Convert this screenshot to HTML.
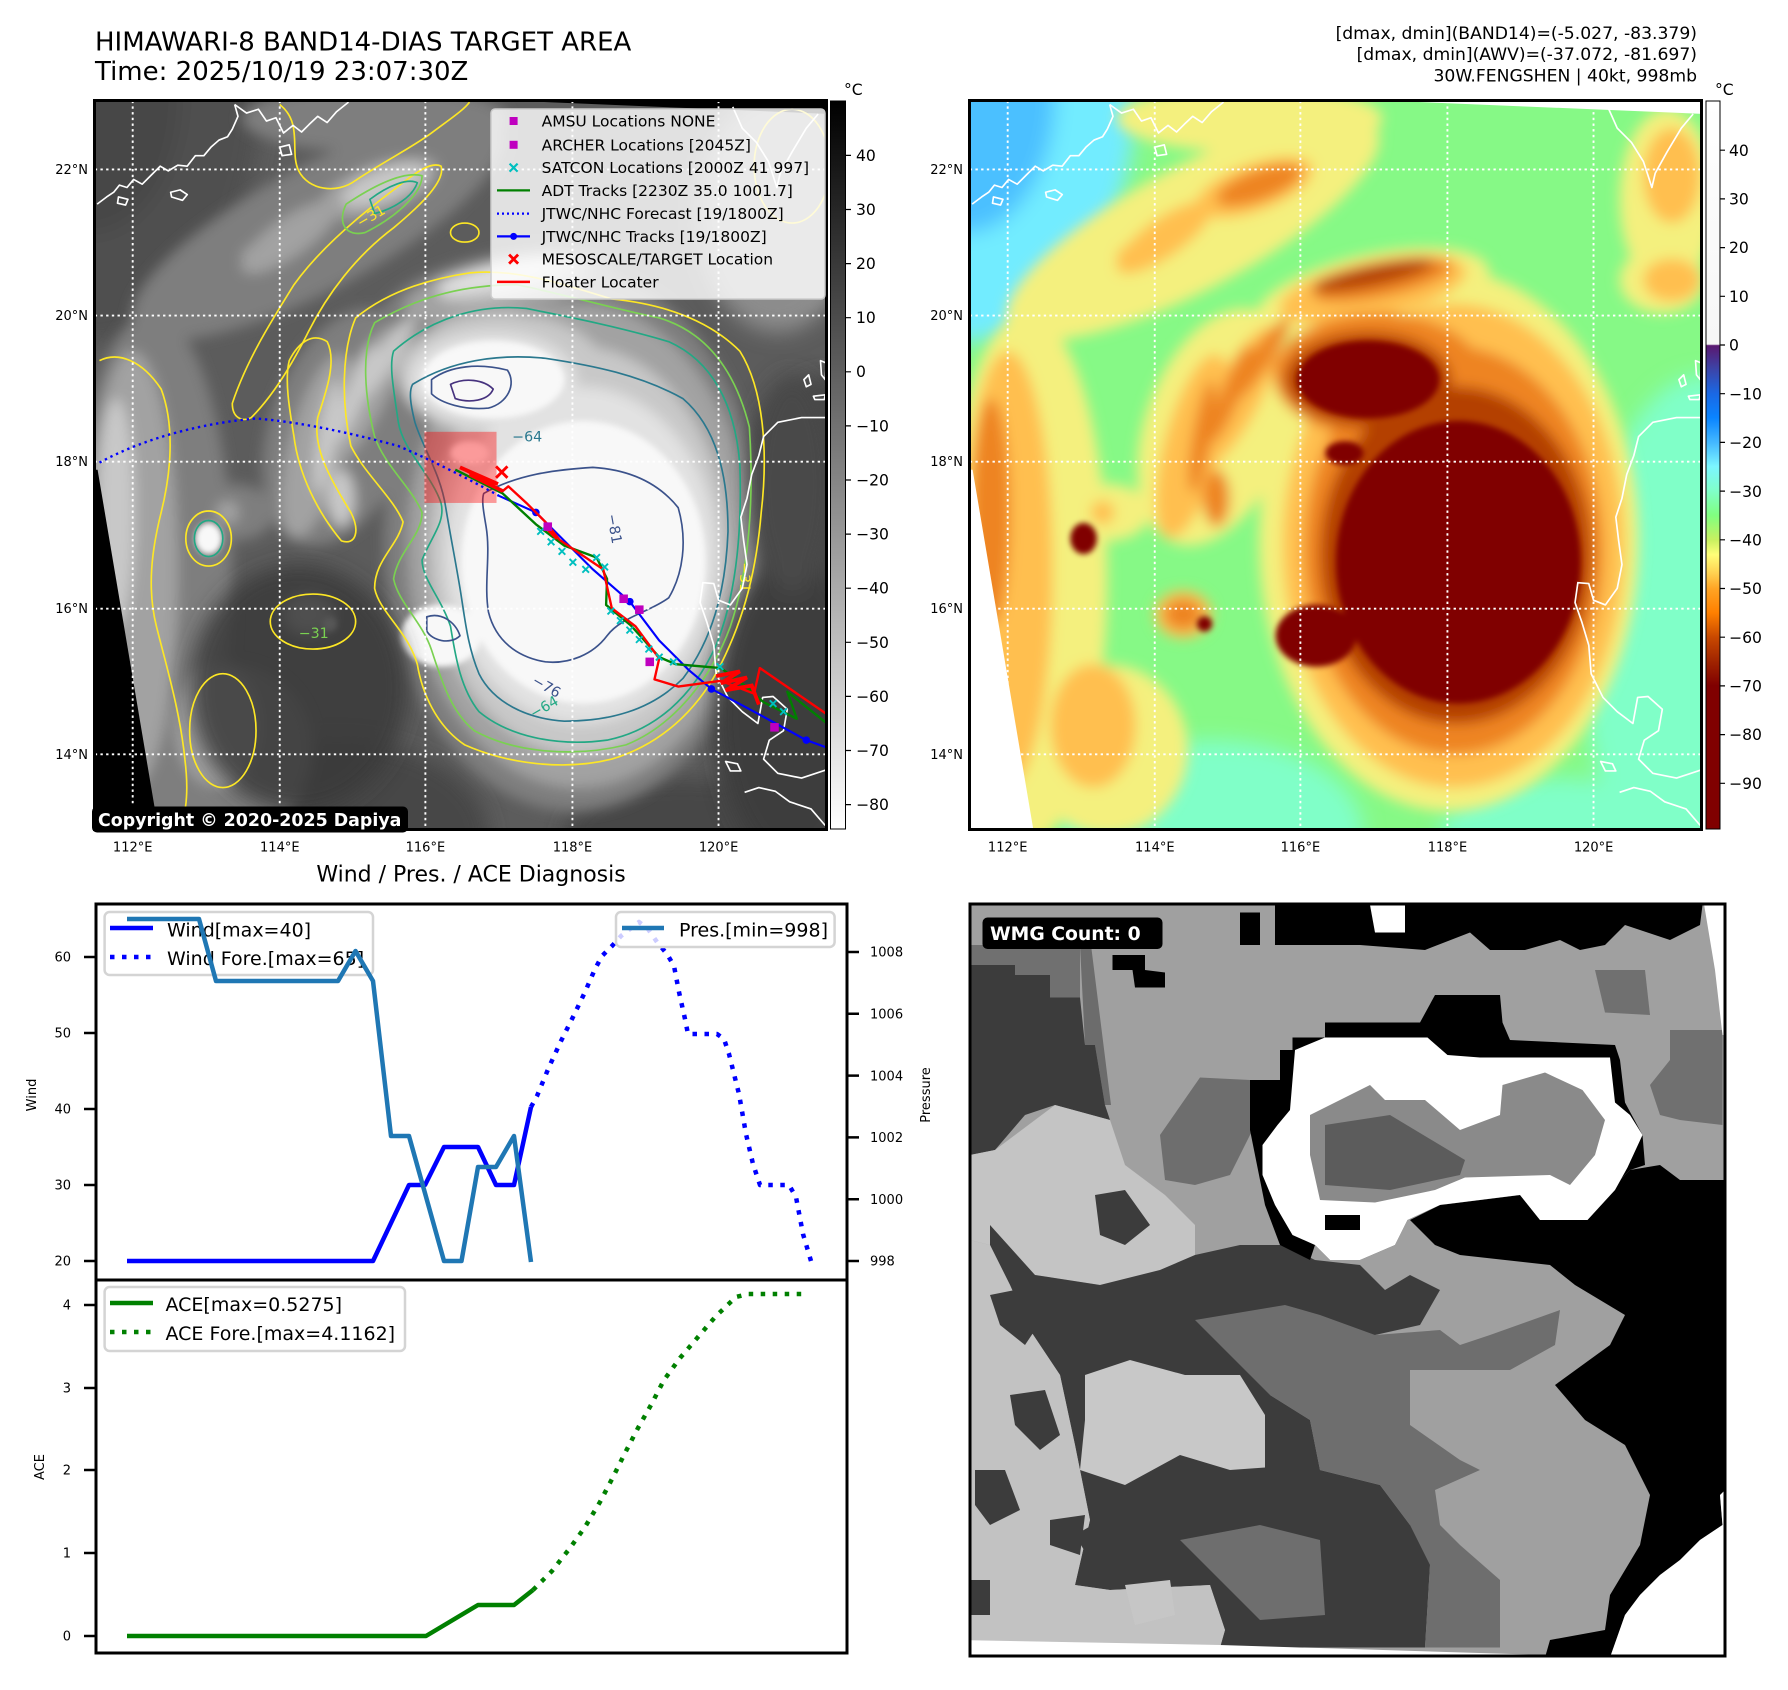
<!DOCTYPE html>
<html><head><meta charset="utf-8"><style>
html,body{margin:0;padding:0;background:#fff;}
svg{display:block;}
text{font-family:"DejaVu Sans","Liberation Sans",sans-serif;}
</style></head><body>
<svg width="1788" height="1690" viewBox="0 0 1788 1690" xmlns="http://www.w3.org/2000/svg">
<defs>
<filter id="b14" x="-30%" y="-30%" width="160%" height="160%"><feGaussianBlur stdDeviation="14"/></filter>
<filter id="b6" x="-30%" y="-30%" width="160%" height="160%"><feGaussianBlur stdDeviation="6"/></filter>
<filter id="b20" x="-30%" y="-30%" width="160%" height="160%"><feGaussianBlur stdDeviation="22"/></filter>
<linearGradient id="cg1" x1="0" y1="0" x2="0" y2="1"><stop offset="0" stop-color="#000"/><stop offset="1" stop-color="#fff"/></linearGradient>
<linearGradient id="cg2" x1="0" y1="0" x2="0" y2="1">
<stop offset="0" stop-color="#ffffff"/><stop offset="0.334" stop-color="#f6f6f6"/>
<stop offset="0.336" stop-color="#5a1870"/><stop offset="0.368" stop-color="#3c44a8"/>
<stop offset="0.402" stop-color="#1a68e4"/><stop offset="0.435" stop-color="#0a84ff"/>
<stop offset="0.469" stop-color="#44b8ff"/><stop offset="0.502" stop-color="#7cf6ff"/>
<stop offset="0.536" stop-color="#80ffc8"/><stop offset="0.569" stop-color="#80ff80"/>
<stop offset="0.603" stop-color="#c8f060"/><stop offset="0.623" stop-color="#ffff78"/>
<stop offset="0.649" stop-color="#ffd050"/><stop offset="0.670" stop-color="#ffa424"/>
<stop offset="0.703" stop-color="#ff8000"/><stop offset="0.737" stop-color="#c84800"/>
<stop offset="0.770" stop-color="#a02400"/><stop offset="0.803" stop-color="#800000"/>
<stop offset="1" stop-color="#800000"/></linearGradient>
<clipPath id="pc"><rect x="9" y="11" width="1544" height="1538"/></clipPath>
<clipPath id="pc3"><rect x="20" y="17" width="1510" height="1508"/></clipPath>

<g id="cld">
<rect x="0" y="0" width="1560" height="1560" style="fill:var(--bg)"/>
<g filter="url(#b20)">
<ellipse cx="0" cy="0" rx="360" ry="520" style="fill:var(--cy)"/>
<ellipse cx="0" cy="0" rx="190" ry="290" style="fill:var(--bl)"/>
<ellipse cx="1560" cy="1150" rx="260" ry="560" style="fill:var(--cg)"/>
<ellipse cx="520" cy="1560" rx="320" ry="200" style="fill:var(--cg)"/>
<ellipse cx="1250" cy="1560" rx="250" ry="120" style="fill:var(--cg)"/>
</g>
<g filter="url(#b14)">
<ellipse cx="480" cy="280" rx="440" ry="130" transform="rotate(-28 480 280)" style="fill:var(--ye)"/>
<ellipse cx="600" cy="50" rx="280" ry="70" style="fill:var(--ye)"/>
<ellipse cx="130" cy="1020" rx="170" ry="560" style="fill:var(--ye)"/>
<ellipse cx="1020" cy="940" rx="400" ry="570" style="fill:var(--ye)"/>
<ellipse cx="860" cy="420" rx="250" ry="85" transform="rotate(-12 860 420)" style="fill:var(--ye)"/>
<ellipse cx="530" cy="700" rx="150" ry="260" transform="rotate(20 530 700)" style="fill:var(--ye)"/>
<ellipse cx="1480" cy="220" rx="100" ry="190" style="fill:var(--ye)"/>
<ellipse cx="300" cy="1380" rx="170" ry="180" style="fill:var(--ye)"/>
<ellipse cx="1470" cy="390" rx="90" ry="70" style="fill:var(--ye)"/>
<ellipse cx="300" cy="880" rx="90" ry="60" style="fill:var(--ye)"/>
<ellipse cx="610" cy="195" rx="130" ry="50" transform="rotate(-20 610 195)" style="fill:var(--o1)"/>
<ellipse cx="420" cy="300" rx="120" ry="40" transform="rotate(-35 420 300)" style="fill:var(--o1)"/>
<ellipse cx="90" cy="1000" rx="95" ry="460" style="fill:var(--o1)"/>
<ellipse cx="1030" cy="950" rx="360" ry="510" style="fill:var(--o1)"/>
<ellipse cx="860" cy="410" rx="200" ry="60" transform="rotate(-12 860 410)" style="fill:var(--o1)"/>
<ellipse cx="480" cy="740" rx="60" ry="200" transform="rotate(15 480 740)" style="fill:var(--o1)"/>
<ellipse cx="570" cy="640" rx="50" ry="170" transform="rotate(28 570 640)" style="fill:var(--o1)"/>
<ellipse cx="1490" cy="390" rx="60" ry="45" style="fill:var(--o1)"/>
<ellipse cx="1490" cy="170" rx="60" ry="100" style="fill:var(--o1)"/>
<ellipse cx="270" cy="1330" rx="90" ry="130" style="fill:var(--o1)"/>
<ellipse cx="460" cy="1095" rx="60" ry="50" style="fill:var(--o1)"/>
<ellipse cx="290" cy="880" rx="25" ry="25" style="fill:var(--o1)"/>
<ellipse cx="360" cy="340" rx="40" ry="25" style="fill:var(--o1)"/>
<ellipse cx="1030" cy="960" rx="315" ry="430" style="fill:var(--o2)"/>
<ellipse cx="620" cy="190" rx="95" ry="32" transform="rotate(-20 620 190)" style="fill:var(--o2)"/>
<ellipse cx="870" cy="590" rx="220" ry="130" style="fill:var(--o2)"/>
<ellipse cx="880" cy="390" rx="150" ry="35" transform="rotate(-12 880 390)" style="fill:var(--o2)"/>
<ellipse cx="55" cy="880" rx="40" ry="240" style="fill:var(--o2)"/>
<ellipse cx="620" cy="560" rx="22" ry="110" transform="rotate(35 620 560)" style="fill:var(--o2)"/>
<ellipse cx="560" cy="630" rx="20" ry="110" transform="rotate(22 560 630)" style="fill:var(--o2)"/>
<ellipse cx="500" cy="720" rx="20" ry="120" transform="rotate(10 500 720)" style="fill:var(--o2)"/>
<ellipse cx="530" cy="850" rx="28" ry="60" style="fill:var(--o2)"/>
<ellipse cx="460" cy="1095" rx="40" ry="32" style="fill:var(--o2)"/>
<ellipse cx="1035" cy="970" rx="285" ry="355" style="fill:var(--br)"/>
<ellipse cx="850" cy="600" rx="175" ry="100" style="fill:var(--br)"/>
<ellipse cx="860" cy="380" rx="130" ry="22" transform="rotate(-12 860 380)" style="fill:var(--br)"/>
</g>
<g filter="url(#b6)">
<ellipse cx="1040" cy="985" rx="258" ry="298" style="fill:var(--dr)"/>
<ellipse cx="850" cy="600" rx="150" ry="82" style="fill:var(--dr)"/>
<ellipse cx="800" cy="755" rx="40" ry="25" style="fill:var(--dr)"/>
<ellipse cx="740" cy="1140" rx="85" ry="65" style="fill:var(--dr)"/>
<ellipse cx="250" cy="935" rx="28" ry="33" style="fill:var(--dr)"/>
<ellipse cx="505" cy="1115" rx="16" ry="16" style="fill:var(--dr)"/>
</g>
</g>

<g id="coast" fill="none" stroke="#fff" stroke-width="3.5" stroke-linejoin="round">
<path d="M15,230 L35,215 L50,205 L62,190 L78,195 L92,178 L110,188 L128,170 L148,150 L165,160 L185,148 L205,150 L222,128 L240,128 L255,110 L272,95 L290,88 L300,72 L312,45 L305,20"/>
<path d="M305,20 L330,38 L355,30 L372,55 L392,48 L408,80 L428,64 L446,78 L462,62 L480,45 L500,58 L520,35 L545,15"/>
<path d="M170,205 L190,200 L205,210 L195,222 L172,215 Z M60,215 L80,220 L75,232 L58,228 Z M400,110 L420,105 L425,125 L405,128 Z"/>
<path d="M1355,25 L1375,70 L1405,100 L1430,140 L1440,170 L1448,195 L1455,165 L1480,120 L1510,70 L1535,40"/>
<path d="M1560,680 L1500,680 L1450,690 L1420,720 L1410,760 L1395,800 L1385,850 L1372,890 L1378,940 L1385,990 L1375,1040 L1350,1075 L1325,1065 L1315,1030 L1292,1028 L1286,1070 L1300,1110 L1315,1160 L1320,1220 L1345,1270 L1375,1300 L1408,1325 L1418,1270 L1440,1268 L1470,1295 L1462,1340 L1432,1360 L1420,1400 L1450,1430 L1500,1440 L1560,1420"/>
<path d="M1505,600 L1515,590 L1520,610 L1510,615 Z M1525,635 L1550,632 L1548,642 L1528,642 Z M1540,560 L1552,565 L1550,600 L1542,590 Z"/>
<path d="M1380,1470 L1410,1460 L1445,1468 L1475,1490 L1520,1505 L1550,1540 M1340,1405 L1365,1410 L1372,1425 L1350,1425 Z"/>
</g>
<g id="grid" stroke="#fff" stroke-width="4" stroke-dasharray="5 7" fill="none">
<path d="M90,12V1549 M400,12V1549 M707,12V1549 M1017,12V1549 M1325,12V1549"/>
<path d="M10,157H1553 M10,465H1553 M10,773H1553 M10,1083H1553 M10,1390H1553"/>
</g>
</defs>

<!-- Titles -->
<text x="95" y="50.7" font-size="26">HIMAWARI-8 BAND14-DIAS TARGET AREA</text>
<text x="95" y="80" font-size="26">Time: 2025/10/19 23:07:30Z</text>
<g font-size="17.2" text-anchor="end">
<text x="1697" y="39">[dmax, dmin](BAND14)=(-5.027, -83.379)</text>
<text x="1697" y="60">[dmax, dmin](AWV)=(-37.072, -81.697)</text>
<text x="1697" y="81.5">30W.FENGSHEN | 40kt, 998mb</text>
</g>

<!-- Panel 1 -->
<svg x="90" y="95" width="740" height="740" viewBox="0 0 1560 1560">
<g clip-path="url(#pc)">
<use href="#cld" style="--bg:#5c5c5c;--cy:#505050;--bl:#474747;--cg:#464646;--ye:#7e7e7e;--o1:#a2a2a2;--o2:#c8c8c8;--br:#e2e2e2;--dr:#f8f8f8;"/>
<g filter="url(#b20)">
<ellipse cx="440" cy="1250" rx="230" ry="260" fill="#3a3a3a" opacity="0.85"/>
<ellipse cx="1480" cy="1300" rx="160" ry="320" fill="#3e3e3e"/>
<ellipse cx="1480" cy="820" rx="90" ry="230" fill="#4a4a4a"/>
<ellipse cx="1450" cy="250" rx="170" ry="250" fill="#8c8c8c"/>
</g>
<polygon points="0,790 16,790 146,1560 0,1560" fill="#000"/>
<polygon points="600,0 1560,0 1560,40" fill="#000"/>
<!-- contours -->
<g fill="none" stroke-width="3.5" stroke-linejoin="round">
<path stroke="#fde725" d="M560,470 C620,420 700,390 800,375 C900,365 1000,400 1100,430 C1200,440 1300,470 1370,540 C1420,620 1430,750 1415,880 C1405,1000 1380,1100 1330,1200 C1280,1300 1200,1370 1100,1400 C1000,1425 880,1410 790,1370 C730,1330 700,1260 690,1200 C670,1130 610,1090 600,1040 C600,980 650,950 660,900 C640,850 580,800 550,740 C530,650 530,540 560,470 Z"/>
<path stroke="#fde725" d="M300,650 C330,560 380,480 430,400 C480,330 560,260 640,200 C690,160 720,140 740,150 C750,180 700,230 640,280 C560,340 500,420 460,500 C420,580 380,640 340,680 C320,690 300,680 300,650 Z"/>
<path stroke="#fde725" d="M20,560 C60,540 110,560 150,620 C180,700 170,800 150,880 C130,960 120,1040 140,1120 C160,1200 190,1300 200,1400 C210,1480 200,1540 180,1550"/>
<path stroke="#fde725" d="M400,20 C450,60 420,120 440,160 C460,200 520,210 560,180 C620,140 680,110 720,80 C760,50 790,30 800,15"/>
<path stroke="#fde725" d="M420,560 C440,520 470,500 500,520 C520,560 500,620 480,680 C470,740 500,800 550,880 C570,920 560,950 530,940 C480,880 440,800 430,720 C420,660 410,600 420,560 Z"/>
<ellipse stroke="#fde725" cx="250" cy="935" rx="48" ry="58"/>
<ellipse stroke="#fde725" cx="470" cy="1110" rx="90" ry="58"/>
<ellipse stroke="#fde725" cx="790" cy="290" rx="30" ry="20"/>
<ellipse stroke="#fde725" cx="280" cy="1340" rx="70" ry="120"/>
<ellipse stroke="#fde725" cx="1480" cy="150" rx="80" ry="120"/>
<path stroke="#7ad151" d="M600,480 C700,420 800,400 900,400 C1000,420 1100,450 1200,470 C1300,500 1360,580 1390,700 C1400,850 1390,1000 1350,1120 C1310,1230 1230,1330 1130,1370 C1030,1395 900,1390 810,1340 C760,1300 740,1230 720,1170 C700,1110 650,1070 640,1020 C650,960 700,930 700,880 C680,830 620,780 600,720 C580,640 570,540 600,480 Z"/>
<path stroke="#7ad151" d="M540,230 C600,190 660,160 700,170 C700,210 640,260 580,290 C540,300 520,270 540,230 Z"/>
<path stroke="#22a884" d="M640,540 C720,470 820,440 920,450 C1020,470 1120,490 1220,520 C1310,560 1360,650 1370,780 C1375,930 1360,1060 1320,1160 C1270,1270 1190,1340 1090,1360 C980,1375 880,1350 820,1300 C780,1250 770,1180 760,1120 C740,1060 700,1020 700,980 C720,930 750,900 740,860 C720,800 660,750 650,690 C640,620 630,570 640,540 Z"/>
<path stroke="#22a884" d="M590,220 C630,190 670,175 690,185 C680,215 640,240 600,250 Z"/>
<ellipse stroke="#22a884" cx="250" cy="935" rx="30" ry="38"/>
<path stroke="#2a788e" d="M680,610 C760,560 860,545 960,555 C1060,570 1160,590 1250,640 C1320,700 1345,800 1345,920 C1340,1050 1310,1150 1250,1230 C1180,1300 1090,1320 1000,1320 C920,1315 850,1280 820,1220 C795,1160 790,1100 780,1040 C770,980 760,930 750,870 C740,800 700,740 685,690 C675,650 672,625 680,610 Z"/>
<path stroke="#3b528b" d="M830,840 C900,800 980,790 1060,785 C1140,790 1200,820 1240,870 C1260,940 1250,1010 1220,1060 C1180,1090 1120,1100 1090,1140 C1060,1180 1010,1200 960,1195 C900,1185 855,1150 840,1090 C830,1030 845,970 835,910 C830,880 825,855 830,840 Z"/>
<path stroke="#3b528b" d="M720,600 C760,570 820,565 880,580 C900,610 880,650 840,660 C790,665 740,650 720,630 Z"/>
<path stroke="#3b528b" d="M710,1100 C740,1090 770,1110 780,1140 C760,1160 720,1150 710,1130 Z"/>
<path stroke="#46327e" d="M760,610 C790,595 830,600 850,620 C840,645 800,650 770,640 Z"/>
</g>
<g font-size="30">
<text x="890" y="730" fill="#2a788e">−64</text>
<text x="930" y="1240" fill="#3b528b" transform="rotate(30 930 1240)">−76</text>
<text x="935" y="1315" fill="#22a884" transform="rotate(-30 935 1315)">−64</text>
<text x="1090" y="885" fill="#3b528b" transform="rotate(80 1090 885)">−81</text>
<text x="570" y="280" fill="#fde725" transform="rotate(-30 570 280)">−31</text>
<text x="1370" y="985" fill="#fde725" transform="rotate(90 1370 985)">−31</text>
<text x="440" y="1145" fill="#7ad151">−31</text>
</g>
<use href="#coast"/>
<use href="#grid"/>
<!-- tracks -->
<rect x="705" y="710" width="152" height="150" fill="#ff0000" opacity="0.38"/>
<path d="M20,775 C120,720 250,690 350,682 C450,690 560,715 650,740 C720,770 800,810 862,845" fill="none" stroke="#0000ff" stroke-width="5" stroke-dasharray="5 8"/>
<polyline points="862,845 940,880 1000,940 1060,1000 1138,1068 1200,1150 1262,1212 1310,1252 1400,1300 1510,1360 1560,1378" fill="none" stroke="#0000ff" stroke-width="4.5"/>
<g fill="#0000ff"><circle cx="940" cy="880" r="8"/><circle cx="1138" cy="1068" r="8"/><circle cx="1310" cy="1252" r="8"/><circle cx="1510" cy="1360" r="8"/></g>
<polyline points="770,790 870,840 940,905 1000,950 1068,975 1090,1020 1088,1075 1140,1118 1200,1185 1235,1200 1330,1208 1380,1245 1420,1280 1490,1315 1470,1258 1560,1330" fill="none" stroke="#008000" stroke-width="5" stroke-linejoin="round"/>
<polyline points="780,785 870,835 882,825 920,860 960,900 990,938 1082,1000 1100,1082 1150,1120 1200,1188 1190,1232 1240,1247 1330,1235 1400,1262 1412,1208 1560,1310" fill="none" stroke="#ff0000" stroke-width="5" stroke-linejoin="round"/>
<path d="M780,785 L860,820 L800,800 L870,835 M960,905 L985,935 L965,915 M1320,1225 L1370,1215 L1330,1240 L1385,1228 L1340,1255 L1395,1245 L1410,1285" fill="none" stroke="#ff0000" stroke-width="8"/>
<path d="M943,913l14,14m0,-14l-14,14 M965,935l14,14m0,-14l-14,14 M988,955l14,14m0,-14l-14,14 M1011,978l14,14m0,-14l-14,14 M1038,993l14,14m0,-14l-14,14 M1061,968l14,14m0,-14l-14,14 M1078,988l14,14m0,-14l-14,14 M1091,1081l14,14m0,-14l-14,14 M1111,1101l14,14m0,-14l-14,14 M1131,1121l14,14m0,-14l-14,14 M1151,1141l14,14m0,-14l-14,14 M1171,1161l14,14m0,-14l-14,14 M1193,1178l14,14m0,-14l-14,14 M1223,1188l14,14m0,-14l-14,14 M1321,1198l14,14m0,-14l-14,14 M1433,1276l14,14m0,-14l-14,14 M1455,1293l14,14m0,-14l-14,14" stroke="#00bfbf" stroke-width="4" fill="none"/>
<g fill="#bf00bf"><rect x="956" y="901" width="18" height="18"/><rect x="1116" y="1053" width="18" height="18"/><rect x="1149" y="1076" width="18" height="18"/><rect x="1171" y="1186" width="18" height="18"/><rect x="1434" y="1324" width="18" height="18"/></g>
<path d="M856,783 l24,24 m0,-24 l-24,24" stroke="#ff0000" stroke-width="6"/>
</g>
</svg>
<rect x="94.5" y="100.5" width="732" height="729" fill="none" stroke="#000" stroke-width="3"/>

<!-- Panel 1 legend -->
<rect x="491" y="109" width="334" height="190" rx="4" fill="#fff" fill-opacity="0.82" stroke="#cccccc" stroke-width="1.5"/>
<rect x="509.6" y="117" width="8" height="8" fill="#bf00bf"/>
<rect x="509.6" y="140.8" width="8" height="8" fill="#bf00bf"/>
<path d="M509.6,163.6 l8,8 m0,-8 l-8,8" stroke="#00bfbf" stroke-width="2.2"/>
<line x1="497" y1="190.4" x2="530" y2="190.4" stroke="#008000" stroke-width="2.2"/>
<line x1="497" y1="213.6" x2="530" y2="213.6" stroke="#0000ff" stroke-width="2.2" stroke-dasharray="2 3"/>
<line x1="497" y1="236.4" x2="530" y2="236.4" stroke="#0000ff" stroke-width="2.2"/><circle cx="513.6" cy="236.4" r="3.5" fill="#0000ff"/>
<path d="M509.1,254.6 l9,9 m0,-9 l-9,9" stroke="#ff0000" stroke-width="2.8"/>
<line x1="497" y1="281.9" x2="530" y2="281.9" stroke="#ff0000" stroke-width="2.5"/>
<g font-size="15.5">
<text x="541.6" y="126.5">AMSU Locations NONE</text>
<text x="541.6" y="150.3">ARCHER Locations [2045Z]</text>
<text x="541.6" y="173.1">SATCON Locations [2000Z 41 997]</text>
<text x="541.6" y="195.9">ADT Tracks [2230Z 35.0 1001.7]</text>
<text x="541.6" y="219.1">JTWC/NHC Forecast [19/1800Z]</text>
<text x="541.6" y="241.9">JTWC/NHC Tracks [19/1800Z]</text>
<text x="541.6" y="264.6">MESOSCALE/TARGET Location</text>
<text x="541.6" y="287.4">Floater Locater</text>
</g>
<rect x="92" y="806.5" width="316" height="26" rx="5" fill="#000"/>
<text x="98" y="826" font-size="17.4" font-weight="bold" fill="#fff">Copyright © 2020-2025 Dapiya</text>

<!-- Panel tick labels -->
<g font-size="13" text-anchor="end">
<text x="88" y="174">22°N</text><text x="88" y="320">20°N</text><text x="88" y="466">18°N</text><text x="88" y="613">16°N</text><text x="88" y="759">14°N</text>
<text x="963" y="174">22°N</text><text x="963" y="320">20°N</text><text x="963" y="466">18°N</text><text x="963" y="613">16°N</text><text x="963" y="759">14°N</text>
</g>
<g font-size="13" text-anchor="middle">
<text x="132.7" y="851.5">112°E</text><text x="279.8" y="851.5">114°E</text><text x="425.4" y="851.5">116°E</text><text x="572.5" y="851.5">118°E</text><text x="718.6" y="851.5">120°E</text>
<text x="1007.7" y="851.5">112°E</text><text x="1154.8" y="851.5">114°E</text><text x="1300.4" y="851.5">116°E</text><text x="1447.5" y="851.5">118°E</text><text x="1593.6" y="851.5">120°E</text>
</g>

<!-- Colorbar 1 -->
<rect x="830.5" y="101" width="15" height="728" fill="url(#cg1)" stroke="#000" stroke-width="1"/>
<text x="844" y="95" font-size="15.6">°C</text>
<g stroke="#000" stroke-width="1.2">
<path d="M846,155.4h5M846,209.5h5M846,263.6h5M846,317.7h5M846,371.8h5M846,425.9h5M846,480h5M846,534.1h5M846,588.2h5M846,642.3h5M846,696.4h5M846,750.5h5M846,804.6h5"/>
</g>
<g font-size="15.6">
<text x="856" y="161">40</text><text x="856" y="215">30</text><text x="856" y="269">20</text><text x="856" y="323">10</text><text x="856" y="377">0</text>
<text x="856" y="431.5">−10</text><text x="856" y="485.5">−20</text><text x="856" y="539.5">−30</text><text x="856" y="593.5">−40</text><text x="856" y="648">−50</text><text x="856" y="702">−60</text><text x="856" y="756">−70</text><text x="856" y="810">−80</text>
</g>

<!-- Panel 2 -->
<svg x="965" y="95" width="740" height="740" viewBox="0 0 1560 1560">
<g clip-path="url(#pc)">
<use href="#cld" style="--bg:#86f986;--cy:#72ecff;--bl:#4cc0ff;--cg:#80ffc8;--ye:#f4f07e;--o1:#ffbf50;--o2:#ee8424;--br:#b44000;--dr:#800000;"/>
<polygon points="0,790 16,790 146,1560 0,1560" fill="#fff"/>
<polygon points="600,0 1560,0 1560,40" fill="#fff"/>
<use href="#coast"/>
<use href="#grid"/>
</g>
</svg>
<rect x="969.5" y="100.5" width="732" height="729" fill="none" stroke="#000" stroke-width="3"/>

<!-- Colorbar 2 -->
<rect x="1706" y="101" width="14" height="728" fill="url(#cg2)" stroke="#000" stroke-width="1"/>
<text x="1715" y="95" font-size="15.6">°C</text>
<g stroke="#000" stroke-width="1.2">
<path d="M1720,150.2h5M1720,198.9h5M1720,247.6h5M1720,296.3h5M1720,345h5M1720,393.7h5M1720,442.4h5M1720,491.1h5M1720,539.8h5M1720,588.5h5M1720,637.2h5M1720,685.9h5M1720,734.6h5M1720,783.3h5"/>
</g>
<g font-size="15.6">
<text x="1729" y="156">40</text><text x="1729" y="204.5">30</text><text x="1729" y="253">20</text><text x="1729" y="302">10</text><text x="1729" y="350.5">0</text>
<text x="1729" y="399.5">−10</text><text x="1729" y="448">−20</text><text x="1729" y="497">−30</text><text x="1729" y="545.5">−40</text><text x="1729" y="594">−50</text><text x="1729" y="643">−60</text><text x="1729" y="691.5">−70</text><text x="1729" y="740">−80</text><text x="1729" y="789">−90</text>
</g>

<!-- Wind / Pres / ACE chart -->
<text x="471" y="881.5" font-size="22" text-anchor="middle">Wind / Pres. / ACE Diagnosis</text>
<g stroke="#000" stroke-width="2.5">
<path d="M84,957h12M84,1033h12M84,1109h12M84,1185h12M84,1261h12"/>
<path d="M847,952h12M847,1013.8h12M847,1075.6h12M847,1137.4h12M847,1199.2h12M847,1261h12"/>
<path d="M84,1305h12M84,1388h12M84,1470h12M84,1553h12M84,1636h12"/>
</g>
<g font-size="13" text-anchor="end">
<text x="71" y="961.7">60</text><text x="71" y="1037.7">50</text><text x="71" y="1113.7">40</text><text x="71" y="1189.7">30</text><text x="71" y="1265.7">20</text>
<text x="71" y="1309.7">4</text><text x="71" y="1392.7">3</text><text x="71" y="1474.7">2</text><text x="71" y="1557.7">1</text><text x="71" y="1640.7">0</text>
</g>
<g font-size="13">
<text x="870" y="956.7">1008</text><text x="870" y="1018.5">1006</text><text x="870" y="1080.3">1004</text><text x="870" y="1142.1">1002</text><text x="870" y="1203.9">1000</text><text x="870" y="1265.7">998</text>
</g>
<text transform="translate(36,1095) rotate(-90)" font-size="13" text-anchor="middle">Wind</text>
<text transform="translate(930,1095) rotate(-90)" font-size="13" text-anchor="middle">Pressure</text>
<text transform="translate(44,1467) rotate(-90)" font-size="13" text-anchor="middle">ACE</text>

<g fill="none" stroke-width="4.5" stroke-linejoin="round">
<polyline points="127,1261 373,1261 409,1185 425,1185 444,1147 478,1147 496,1185 514,1185 531,1107" stroke="#0000ff"/>
<polyline points="531,1107 537,1096 549,1067 561,1041 573,1017 585,992 595,969 602,956 612,946 621,936 639,922 648,929 657,942 667,954 674,966 679,992 685,1019 688,1034 717,1034 724,1039 729,1054 739,1094 746,1134 753,1164 760,1185 789,1185 796,1197 803,1234 811,1261" stroke="#0000ff" stroke-dasharray="4.5 7.5"/>
</g>
<rect x="104.6" y="912" width="268.4" height="63" rx="5" fill="#fff" fill-opacity="0.8" stroke="#d4d4d4" stroke-width="2.5"/>
<line x1="110" y1="928" x2="153" y2="928" stroke="#0000ff" stroke-width="4.5"/>
<line x1="110" y1="957" x2="153" y2="957" stroke="#0000ff" stroke-width="4.5" stroke-dasharray="4.5 7.5"/>
<text x="167" y="936.5" font-size="19">Wind[max=40]</text>
<text x="167" y="965" font-size="19">Wind Fore.[max=65]</text>
<polyline points="127,919 199,919 216,981 338,981 355.5,951 373,981 391,1136 409,1136 444,1261 461.5,1261 478,1167 496,1167 514,1136 531,1262" fill="none" stroke="#1f77b4" stroke-width="4.5" stroke-linejoin="round"/>
<rect x="616" y="912" width="218.6" height="35" rx="5" fill="#fff" fill-opacity="0.8" stroke="#d4d4d4" stroke-width="2.5"/>
<line x1="622" y1="928" x2="664" y2="928" stroke="#1f77b4" stroke-width="4.5"/>
<text x="679" y="936.5" font-size="19">Pres.[min=998]</text>

<g fill="none" stroke="#008000" stroke-width="4.5" stroke-linejoin="round">
<polyline points="127,1636 426,1636 478,1605 514,1605 533,1590"/>
<polyline points="533,1590 552,1571 570,1548 585,1527 600,1502 612.5,1478 625,1453 638,1428 651,1405 664,1380 680,1358 698,1337 716,1316 736,1297 748,1294 806,1294" stroke-dasharray="4.5 7.5"/>
</g>
<rect x="104.6" y="1287" width="300.4" height="64" rx="5" fill="#fff" fill-opacity="0.8" stroke="#d4d4d4" stroke-width="2.5"/>
<line x1="110" y1="1303" x2="153" y2="1303" stroke="#008000" stroke-width="4.5"/>
<line x1="110" y1="1332" x2="153" y2="1332" stroke="#008000" stroke-width="4.5" stroke-dasharray="4.5 7.5"/>
<text x="165.5" y="1311" font-size="19">ACE[max=0.5275]</text>
<text x="165.5" y="1340" font-size="19">ACE Fore.[max=4.1162]</text>
<rect x="96" y="904" width="751" height="376" fill="none" stroke="#000" stroke-width="3"/>
<rect x="96" y="1280" width="751" height="373" fill="none" stroke="#000" stroke-width="3"/>

<!-- Bottom-right WMG panel -->
<svg x="960" y="895" width="780" height="780" viewBox="0 0 1560 1560">
<g clip-path="url(#pc3)">
<rect x="0" y="0" width="1560" height="1560" fill="#a0a0a0"/>
<polygon points="20,100 240,100 240,205 180,205 180,160 110,160 110,140 20,140" fill="#707070"/>
<polygon points="240,100 262,100 302,420 290,420 270,300 250,300" fill="#6c6c6c"/>
<polygon points="20,140 110,140 110,160 180,160 180,205 240,205 250,300 270,300 290,420 300,450 190,420 130,440 60,440 20,440" fill="#3c3c3c"/>
<polygon points="20,440 130,440 70,510 20,520" fill="#3c3c3c"/>
<polygon points="20,520 70,510 190,420 300,450 330,540 410,600 470,660 470,720 400,750 280,780 150,760 60,700 20,690" fill="#c4c4c4"/>
<polygon points="400,480 480,365 580,370 590,460 540,560 470,580 410,570" fill="#6e6e6e"/>
<polygon points="60,660 150,760 280,780 400,750 470,720 560,700 650,700 710,730 800,740 850,790 900,760 960,790 920,860 830,880 700,880 640,930 620,1000 700,1050 720,1150 840,1180 900,1260 960,1260 940,1340 930,1505 520,1505 530,1470 500,1380 300,1390 230,1380 260,1250 230,1100 200,960 140,870 100,780 60,700" fill="#3c3c3c"/>
<polygon points="20,690 60,700 100,780 140,870 200,960 230,1100 260,1250 230,1380 300,1390 500,1380 530,1470 520,1505 20,1505" fill="#c2c2c2"/>
<polygon points="250,960 340,930 450,960 560,960 610,1040 610,1145 540,1150 440,1120 330,1180 240,1150 250,1050" fill="#c8c8c8"/>
<polygon points="180,1250 250,1240 240,1320 180,1300" fill="#3c3c3c"/>
<polygon points="20,1370 60,1370 60,1440 20,1440" fill="#3c3c3c"/>
<polygon points="60,800 110,790 150,870 130,900 80,860" fill="#3c3c3c"/>
<polygon points="100,1000 170,990 200,1080 160,1110 110,1060" fill="#3c3c3c"/>
<polygon points="30,1150 90,1150 120,1230 60,1260 30,1220" fill="#3c3c3c"/>
<polygon points="230,1280 300,1240 380,1290 330,1330 260,1330" fill="#3c3c3c"/>
<polygon points="270,600 330,590 380,660 330,700 280,680" fill="#3c3c3c"/>
<polygon points="330,1380 420,1370 430,1440 350,1460" fill="#c6c6c6"/>
<polygon points="470,850 650,820 720,840 830,880 960,870 1000,900 1060,880 1200,830 1190,900 1100,950 900,950 900,1060 1000,1130 1040,1150 950,1190 960,1260 1000,1300 1080,1370 1080,1505 930,1505 940,1340 900,1260 840,1180 720,1150 700,1050 620,1000 520,900" fill="#6e6e6e"/>
<polygon points="440,1290 600,1260 720,1290 730,1440 600,1450 500,1350" fill="#6e6e6e"/>
<polygon points="1270,150 1370,150 1380,240 1290,235" fill="#707070"/>
<polygon points="1420,270 1525,270 1525,460 1440,450 1400,440 1380,380 1420,330" fill="#707070"/>
<polygon points="1290,600 1340,550 1400,540 1440,570 1530,570 1530,1195 1520,1200 1525,1260 1480,1290 1440,1330 1400,1360 1360,1400 1330,1440 1300,1525 1170,1525 1180,1490 1290,1470 1300,1400 1360,1300 1380,1200 1330,1100 1250,1050 1190,980 1300,900 1330,840 1230,780 1180,740 1000,720 950,700 900,650 960,620 1120,600 1160,650 1255,650" fill="#000"/>
<polygon points="580,370 640,370 640,310 665,310 665,285 730,285 730,255 920,255 950,200 1080,200 1085,255 1100,290 1310,300 1320,330 1330,415 1365,480 1370,540 1340,550 1290,600 1255,650 1160,650 1120,600 960,620 895,650 870,700 800,730 740,730 710,700 700,730 640,700 610,620 580,470" fill="#000"/>
<polygon points="670,310 730,285 935,285 975,320 1040,325 1300,325 1310,415 1340,440 1365,480 1335,545 1310,590 1255,650 1160,650 1120,600 960,620 895,650 870,700 800,730 740,730 710,700 665,680 630,620 605,560 605,500 635,460 660,430" fill="#fff"/>
<polygon points="730,640 800,640 800,670 730,670" fill="#000"/>
<polygon points="960,620 1040,615 1040,640 960,645" fill="#000"/>
<polygon points="700,440 820,380 850,410 930,410 1000,470 1080,440 1085,380 1170,355 1245,390 1290,450 1270,520 1220,580 1180,560 1010,565 950,590 830,615 720,610 700,520" fill="#8a8a8a"/>
<polygon points="730,460 860,440 1010,530 1000,560 860,590 730,580" fill="#5c5c5c"/>
<polygon points="630,20 1485,20 1480,60 1420,90 1330,60 1290,100 1240,110 1200,90 1130,110 1060,110 1020,75 930,110 800,100 700,100 630,100" fill="#000"/>
<polygon points="560,35 600,35 600,100 560,100" fill="#000"/>
<polygon points="305,120 370,120 370,150 410,155 410,185 350,185 345,150 305,150" fill="#000"/>
<polygon points="820,20 890,20 890,75 830,75" fill="#fff"/>
<polygon points="1485,0 1560,0 1560,280 1525,280 1510,150" fill="#fff"/>
<polygon points="1530,1190 1560,1190 1560,1560 1290,1560 1300,1525 1330,1440 1360,1400 1400,1360 1440,1330 1480,1290 1525,1260 1520,1200" fill="#fff"/>
<polygon points="0,1490 520,1500 1170,1520 1170,1560 0,1560" fill="#fff"/>
</g>
</svg>
<rect x="970" y="904" width="755" height="752" fill="none" stroke="#000" stroke-width="3"/>
<rect x="982.5" y="917.5" width="180" height="31.5" rx="5" fill="#000"/>
<text x="990" y="940" font-size="18.75" font-weight="bold" fill="#fff">WMG Count: 0</text>
</svg>
</body></html>
